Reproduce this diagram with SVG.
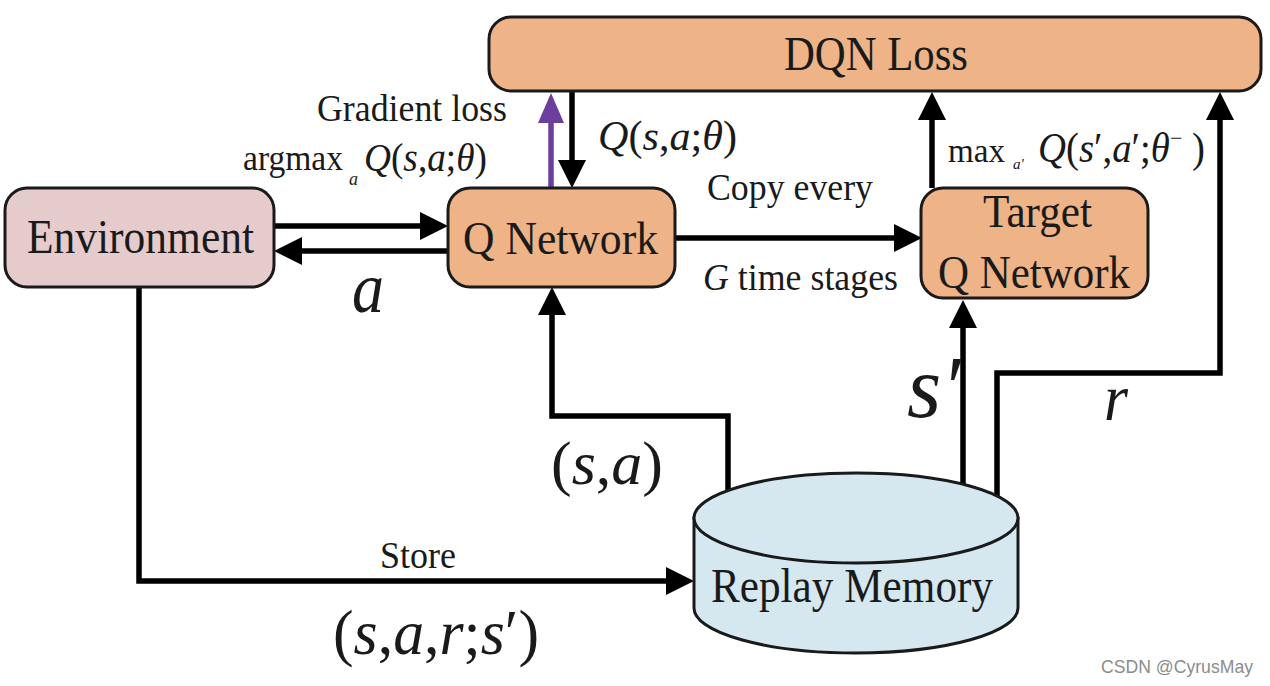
<svg xmlns="http://www.w3.org/2000/svg" width="1270" height="686" viewBox="0 0 1270 686">
<style>
.box{stroke:#1a1a1a;stroke-width:3}
.orange{fill:#eeb386}
.pink{fill:#e6cbcd}
.blue{fill:#d5e8f0}
.t{font-family:"Liberation Serif","Times New Roman",serif;fill:#1a1a1a}
.i{font-style:italic}
.c{fill:none;stroke:#000;stroke-width:5.5}
.p{fill:none;stroke:#6b3f9b;stroke-width:5.5}
.wm{font-family:"Liberation Sans",Arial,sans-serif;fill:#8c8c8c}
</style>
<defs>
<marker id="ah" viewBox="0 0 28 28" refX="1" refY="14" markerWidth="28" markerHeight="28" markerUnits="userSpaceOnUse" orient="auto">
<path d="M0,0 L28,14 L0,28 Z" fill="#000"/>
</marker>
<marker id="ahp" viewBox="0 0 30 26" refX="1" refY="13" markerWidth="30" markerHeight="26" markerUnits="userSpaceOnUse" orient="auto">
<path d="M0,0 L30,13 L0,26 Z" fill="#6b3f9b"/>
</marker>
</defs>
<rect width="1270" height="686" fill="#fff"/>

<g id="connectors">
<path class="c" d="M274,226 H421" marker-end="url(#ah)"/>
<path class="c" d="M448,251 H301" marker-end="url(#ah)"/>
<path class="c" d="M675,238 H895" marker-end="url(#ah)"/>
<path class="p" d="M551,188 V122" marker-end="url(#ahp)"/>
<path class="c" d="M572,91 V161" marker-end="url(#ah)"/>
<path class="c" d="M932,188 V119" marker-end="url(#ah)"/>
<path class="c" d="M997,498 V373 H1220 V119" marker-end="url(#ah)"/>
<path class="c" d="M963,486 V327" marker-end="url(#ah)"/>
<path class="c" d="M728,492 V416 H552 V314" marker-end="url(#ah)"/>
<path class="c" d="M139,286 V581 H667" marker-end="url(#ah)"/>
</g>

<g id="dqn-loss">
<rect class="box orange" x="489" y="17" width="772" height="74" rx="22"/>
<text class="t" x="784" y="70" font-size="48" textLength="184" lengthAdjust="spacingAndGlyphs">DQN Loss</text>
</g>

<g id="environment">
<rect class="box pink" x="5" y="188" width="269" height="99" rx="22"/>
<text class="t" x="27" y="253" font-size="48" textLength="227" lengthAdjust="spacingAndGlyphs">Environment</text>
</g>

<g id="q-network">
<rect class="box orange" x="448" y="188" width="227" height="99" rx="22"/>
<text class="t" x="463" y="254" font-size="47" textLength="195" lengthAdjust="spacingAndGlyphs">Q Network</text>
</g>

<g id="target-q-network">
<rect class="box orange" x="921" y="188" width="227" height="110" rx="22"/>
<text class="t" x="983" y="227" font-size="47" textLength="109" lengthAdjust="spacingAndGlyphs">Target</text>
<text class="t" x="938" y="288" font-size="47" textLength="192" lengthAdjust="spacingAndGlyphs">Q Network</text>
</g>

<g id="replay-memory">
<path class="box blue" d="M694,518 V608 A162,45 0 0,0 1018,608 V518 Z"/>
<ellipse class="box blue" cx="856" cy="518" rx="162" ry="45"/>
<text class="t" x="711" y="602" font-size="49" textLength="282" lengthAdjust="spacingAndGlyphs">Replay Memory</text>
</g>

<g id="labels">
<text class="t" x="317" y="121" font-size="38" textLength="190" lengthAdjust="spacingAndGlyphs">Gradient loss</text>
<text class="t" x="243" y="170" font-size="36" textLength="100" lengthAdjust="spacingAndGlyphs">argmax</text>
<text class="t i" x="349" y="185" font-size="18">a</text>
<text class="t" x="364" y="171" font-size="39" textLength="123" lengthAdjust="spacingAndGlyphs"><tspan class="i">Q</tspan>(<tspan class="i">s</tspan>,<tspan class="i">a</tspan>;<tspan class="i">θ</tspan>)</text>
<text class="t" x="598" y="150" font-size="43" textLength="139" lengthAdjust="spacingAndGlyphs"><tspan class="i">Q</tspan>(<tspan class="i">s</tspan>,<tspan class="i">a</tspan>;<tspan class="i">θ</tspan>)</text>
<text class="t" x="707" y="200" font-size="38" textLength="166" lengthAdjust="spacingAndGlyphs">Copy every</text>
<text class="t" x="703" y="290" font-size="38" textLength="195" lengthAdjust="spacingAndGlyphs"><tspan class="i">G</tspan> time stages</text>
<text class="t" x="948" y="162" font-size="34" textLength="57" lengthAdjust="spacingAndGlyphs">max</text>
<text class="t i" x="1013" y="169" font-size="15">a'</text>
<text class="t" x="1038" y="162" font-size="42" textLength="167" lengthAdjust="spacingAndGlyphs"><tspan class="i">Q</tspan>(<tspan class="i">s</tspan>′,<tspan class="i">a</tspan>′;<tspan class="i">θ</tspan><tspan dy="-16" font-size="24">−</tspan><tspan dy="16"> )</tspan></text>
<text class="t i" x="352" y="312" font-size="72" textLength="32" lengthAdjust="spacingAndGlyphs">a</text>
<text class="t i" x="907" y="417" font-size="88">s′</text>
<text class="t i" x="1104" y="420" font-size="66" textLength="24" lengthAdjust="spacingAndGlyphs">r</text>
<text class="t" x="551" y="484" font-size="62" textLength="112" lengthAdjust="spacingAndGlyphs">(<tspan class="i">s</tspan>,<tspan class="i">a</tspan>)</text>
<text class="t" x="380" y="568" font-size="38" textLength="76" lengthAdjust="spacingAndGlyphs">Store</text>
<text class="t" x="333" y="654" font-size="64" textLength="206" lengthAdjust="spacingAndGlyphs">(<tspan class="i">s</tspan>,<tspan class="i">a</tspan>,<tspan class="i">r</tspan>;<tspan class="i">s</tspan>′)</text>
<text class="wm" x="1101" y="673" font-size="19" textLength="152" lengthAdjust="spacingAndGlyphs">CSDN @CyrusMay</text>
</g>
</svg>
